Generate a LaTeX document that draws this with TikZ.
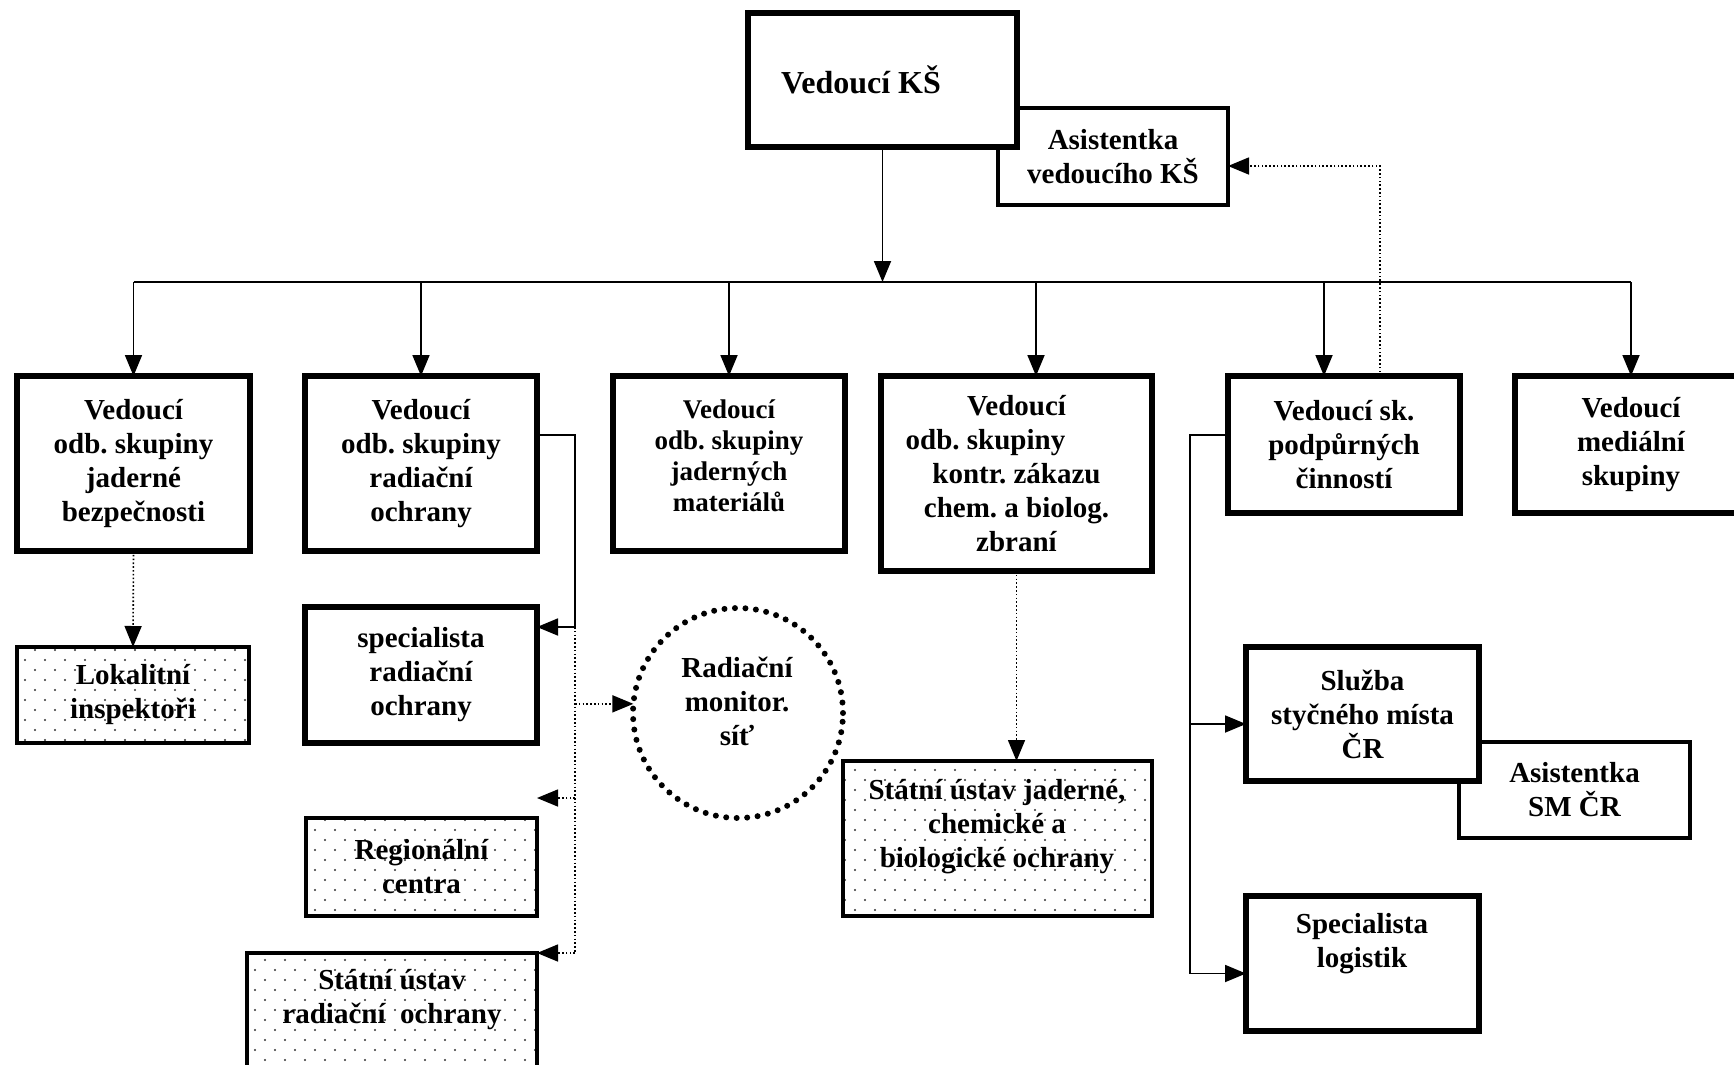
\documentclass[tikz,border=0pt]{standalone}
\usepackage{fontspec}
\setmainfont{Liberation Serif}
\frenchspacing
\usetikzlibrary{arrows.meta,patterns,calc}
\pgfdeclarepatternformonly{smalldots}{\pgfqpoint{-1pt}{-1pt}}{\pgfqpoint{21pt}{21pt}}{\pgfqpoint{20pt}{20pt}}{%
  \pgfpathcircle{\pgfqpoint{5pt}{5pt}}{1.2pt}%
  \pgfpathcircle{\pgfqpoint{15pt}{15pt}}{1.2pt}%
  \pgfusepath{fill}}
\newcommand\boxfont{\fontsize{29}{34}\selectfont\bfseries\frenchspacing}
\newcommand\smallboxfont{\fontsize{27}{31}\selectfont\bfseries\frenchspacing}
\newcommand\bigboxfont{\fontsize{32}{36}\selectfont\bfseries\frenchspacing}
\tikzset{
  box/.style={draw, line width=5.5pt, fill=white, inner sep=0pt, outer sep=0pt, align=center, font=\boxfont},
  asbox/.style={box, line width=3.8pt},
  patbox/.style={draw, line width=4.8pt, inner sep=0pt, outer sep=0pt, align=center, font=\boxfont,
    pattern=smalldots, pattern color=black!80},
  txt/.style={inner sep=0pt, align=center, font=\boxfont},
  conn/.style={line width=1.8pt},
  arr/.style={conn, -{Triangle[length=21pt,width=17pt]}},
  dotline/.style={line width=1.6pt, dash pattern=on 1.6pt off 2.2pt},
  dotarr/.style={dotline, -{Triangle[length=21pt,width=17pt]}},
  dotcircle/.style={draw, circle, line width=6pt, dash pattern=on 0pt off 10.5pt, line cap=round,
    minimum size=210pt, inner sep=0pt, outer sep=0pt}
}
\begin{document}
\begin{tikzpicture}[x=1pt,y=-1pt]
\fill[white] (0,0) rectangle (1734,1065);
\useasboundingbox (0,0) rectangle (1734,1065);
\clip (0,0) rectangle (1734,1065);

% assistants (behind)
\node[asbox, minimum width=230pt, minimum height=97pt] (asK) at (1113,156.5) {Asistentka\\vedoucího KŠ};
\node[asbox, minimum width=231pt, minimum height=96pt] (asSM) at (1574.5,790) {Asistentka\\SM ČR};

% top
\node[box, minimum width=269pt, minimum height=134pt] (kS) at (882.5,80) {};
\node[txt, font=\bigboxfont] (kSt) at (861,80) {Vedoucí KŠ};

% second row
\node[box, minimum width=233pt, minimum height=175pt] (b1) at (133.5,463.5) {Vedoucí\\odb. skupiny\\jaderné\\bezpečnosti};
\node[box, minimum width=232pt, minimum height=175pt] (b2) at (421,463.5) {Vedoucí\\odb. skupiny\\radiační\\ochrany};
\node[box, minimum width=232pt, minimum height=175pt] (b3) at (729,463.5) {};
\node[txt, font=\smallboxfont] (b3t) at (729,456) {Vedoucí\\odb. skupiny\\jaderných\\materiálů};
\node[box, minimum width=271pt, minimum height=195pt] (b4) at (1016.5,473.5) {Vedoucí\\odb. skupiny\makebox[62pt]{}\\kontr. zákazu\\chem. a biolog.\\zbraní};
\node[box, minimum width=232pt, minimum height=137pt] (b5) at (1344,444.5) {Vedoucí sk.\\podpůrných\\činností};
\node[box, minimum width=232pt, minimum height=137pt] (b6) at (1631,444.5) {Vedoucí\\mediální\\skupiny};

% lower boxes
\node[patbox, minimum width=232pt, minimum height=96pt] (lok) at (133,695) {Lokalitní\\inspektoři};
\node[box, minimum width=232pt, minimum height=136pt] (spec) at (421,675) {specialista\\radiační\\ochrany};
\node[dotcircle] (circ) at (738,713) {};
\node[txt] (circt) at (737,701) {Radiační\\monitor.\\síť};
\node[patbox, minimum width=231pt, minimum height=98pt] (reg) at (421.5,867) {Regionální\\centra};
\node[patbox, minimum width=290pt, minimum height=122pt] (sro) at (392,1014) {};
\node[txt] (srot) at (392,1000) {Státní ústav\\radiační\ \ ochrany};
\node[patbox, minimum width=309pt, minimum height=155pt] (sjaz) at (997.5,838.5) {};
\node[txt] (sjazt) at (997,827) {Státní ústav jaderné,\\chemické a\\biologické ochrany};
\node[box, minimum width=233pt, minimum height=134pt] (sluz) at (1362.5,714) {Služba\\styčného místa\\ČR};
\node[box, minimum width=233pt, minimum height=135pt] (log) at (1362.5,963.5) {};
\node[txt] (logt) at (1362,944) {Specialista\\logistik};

% bus
\coordinate (busL) at (133.5,282);
\coordinate (busR) at (1631,282);
\draw[arr] (kS.south) -- (kS.south |- busL);
\draw[conn] (busL) -- (busR);
\draw[arr] (b1.north |- busL) -- (b1.north);
\draw[arr] (b2.north |- busL) -- (b2.north);
\draw[arr] (b3.north |- busL) -- (b3.north);
\coordinate (b4in) at ([xshift=19.5pt]b4.north);
\draw[arr] (b4in |- busL) -- (b4in);
\coordinate (b5in) at ([xshift=-20pt]b5.north);
\draw[arr] (b5in |- busL) -- (b5in);
\draw[arr] (b6.north |- busL) -- (b6.north);

% dotted to assistant
\coordinate (d5) at ([xshift=36pt]b5.north);
\coordinate (dA) at ([yshift=-9.5pt]asK.east);
\draw[dotarr] (d5) |- (dA);

% left dotted
\draw[dotarr] (b1.south) -- (lok.north);

% radiation branch
\coordinate (j2a) at (575,435);
\coordinate (j2b) at (575,627);
\coordinate (j2c) at (575,953);
\coordinate (regarr) at (537,798);
\draw[conn] ([yshift=28.5pt]b2.east) -- (j2a) -- (j2b);
\draw[arr] (j2b) -- (spec.east |- j2b);
\draw[dotline] (j2b) -- (j2c);
\draw[dotarr] (j2b |- circ.175) -- (circ.175);
\draw[dotarr] (j2b |- regarr) -- (regarr);
\draw[dotarr] (j2c) -- (sro.north east);

% chem branch
\draw[dotarr] (b4.south) -- (b4.south |- sjaz.north);

% support branch
\coordinate (j5a) at (1190,435);
\coordinate (sa) at ([yshift=-10pt]sluz.west);
\coordinate (la) at ([yshift=-10pt]log.west);
\draw[conn] ([yshift=9.5pt]b5.west) -- (j5a) -- (j5a |- la);
\draw[arr] (j5a |- sa) -- (sa);
\draw[arr] (j5a |- la) -- (la);
\end{tikzpicture}
\end{document}
